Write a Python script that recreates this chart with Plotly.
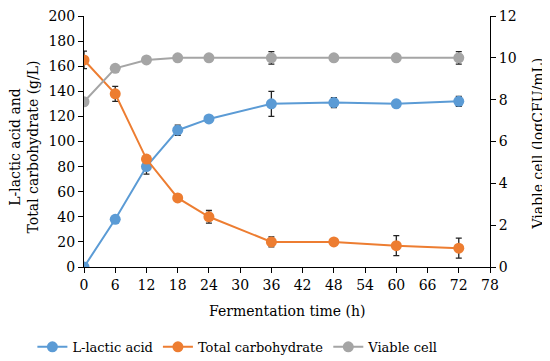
import plotly.graph_objects as go

time_h = [0, 6, 12, 18, 24, 36, 48, 60, 72]
lactic = [0, 38, 80, 109, 118, 130, 131, 130, 132]
lactic_err = [0, 1.5, 6, 4, 2, 10, 4, 2, 4]
carb = [165, 138, 86, 55, 40, 20, 20, 17, 15]
carb_err = [7, 6, 2, 2, 5, 4, 2, 8, 8]
viable = [7.9, 9.5, 9.9, 10.0, 10.0, 10.0, 10.0, 10.0, 10.0]
viable_err = [0, 0, 0, 0, 0, 0.3, 0, 0, 0.3]

x_title = "Fermentation time (h)"
y_title = "L-lactic acid and<br>Total carbohydrate (g/L)"
y2_title = "Viable cell (logCFU/mL)"

FONT = "DejaVu Serif"
FS = 14
err_style = lambda arr: dict(type="data", array=arr, visible=True, color="#222222", thickness=1.3, width=3)

fig = go.Figure()
fig.add_trace(go.Scatter(x=time_h, y=lactic, name="L-lactic acid", mode="lines+markers",
                         line=dict(color="#5B9BD5", width=2), marker=dict(size=11, color="#5B9BD5"),
                         error_y=err_style(lactic_err)))
fig.add_trace(go.Scatter(x=time_h, y=carb, name="Total carbohydrate", mode="lines+markers",
                         line=dict(color="#ED7D31", width=2), marker=dict(size=11, color="#ED7D31"),
                         error_y=err_style(carb_err)))
fig.add_trace(go.Scatter(x=time_h, y=viable, name="Viable cell", mode="lines+markers", yaxis="y2",
                         line=dict(color="#A5A5A5", width=2), marker=dict(size=11, color="#A5A5A5"),
                         error_y=err_style(viable_err)))

axis_common = dict(showline=True, linecolor="black", linewidth=1, ticks="outside", ticklen=5,
                   tickcolor="black", showgrid=False, zeroline=False, automargin=False,
                   ticklabeloverflow="allow",
                   tickfont=dict(family=FONT, size=FS, color="black"))

# page body has an 8px default margin, so the figure is sized 542x353
fig.update_layout(
    width=542, height=353,
    margin=dict(l=76, r=60, t=8, b=94),
    paper_bgcolor="white", plot_bgcolor="white",
    font=dict(family=FONT, size=FS, color="black"),
    xaxis=dict(range=[0, 78], tick0=0, dtick=6, **axis_common),
    yaxis=dict(range=[0, 200], dtick=20, **axis_common),
    yaxis2=dict(range=[0, 12], dtick=2, overlaying="y", side="right", **axis_common),
    legend=dict(orientation="h", x=0.045, xanchor="left", xref="container",
                y=0.040, yanchor="middle", yref="container",
                font=dict(family=FONT, size=13), itemwidth=30),
    showlegend=True,
    annotations=[
        dict(text=x_title, xref="paper", yref="paper", x=0.5, y=0, xanchor="center", yanchor="middle",
             yshift=-44, showarrow=False, font=dict(family=FONT, size=FS)),
        dict(text=y_title, xref="paper", yref="paper", x=0, y=0.5, xanchor="center", yanchor="middle",
             xshift=-61, yshift=-6, textangle=-90, showarrow=False, font=dict(family=FONT, size=FS)),
        dict(text=y2_title, xref="paper", yref="paper", x=1, y=0.5, xanchor="center", yanchor="middle",
             xshift=47, yshift=-2, textangle=-90, showarrow=False, font=dict(family=FONT, size=FS)),
    ],
)

fig.write_html("out.html")
